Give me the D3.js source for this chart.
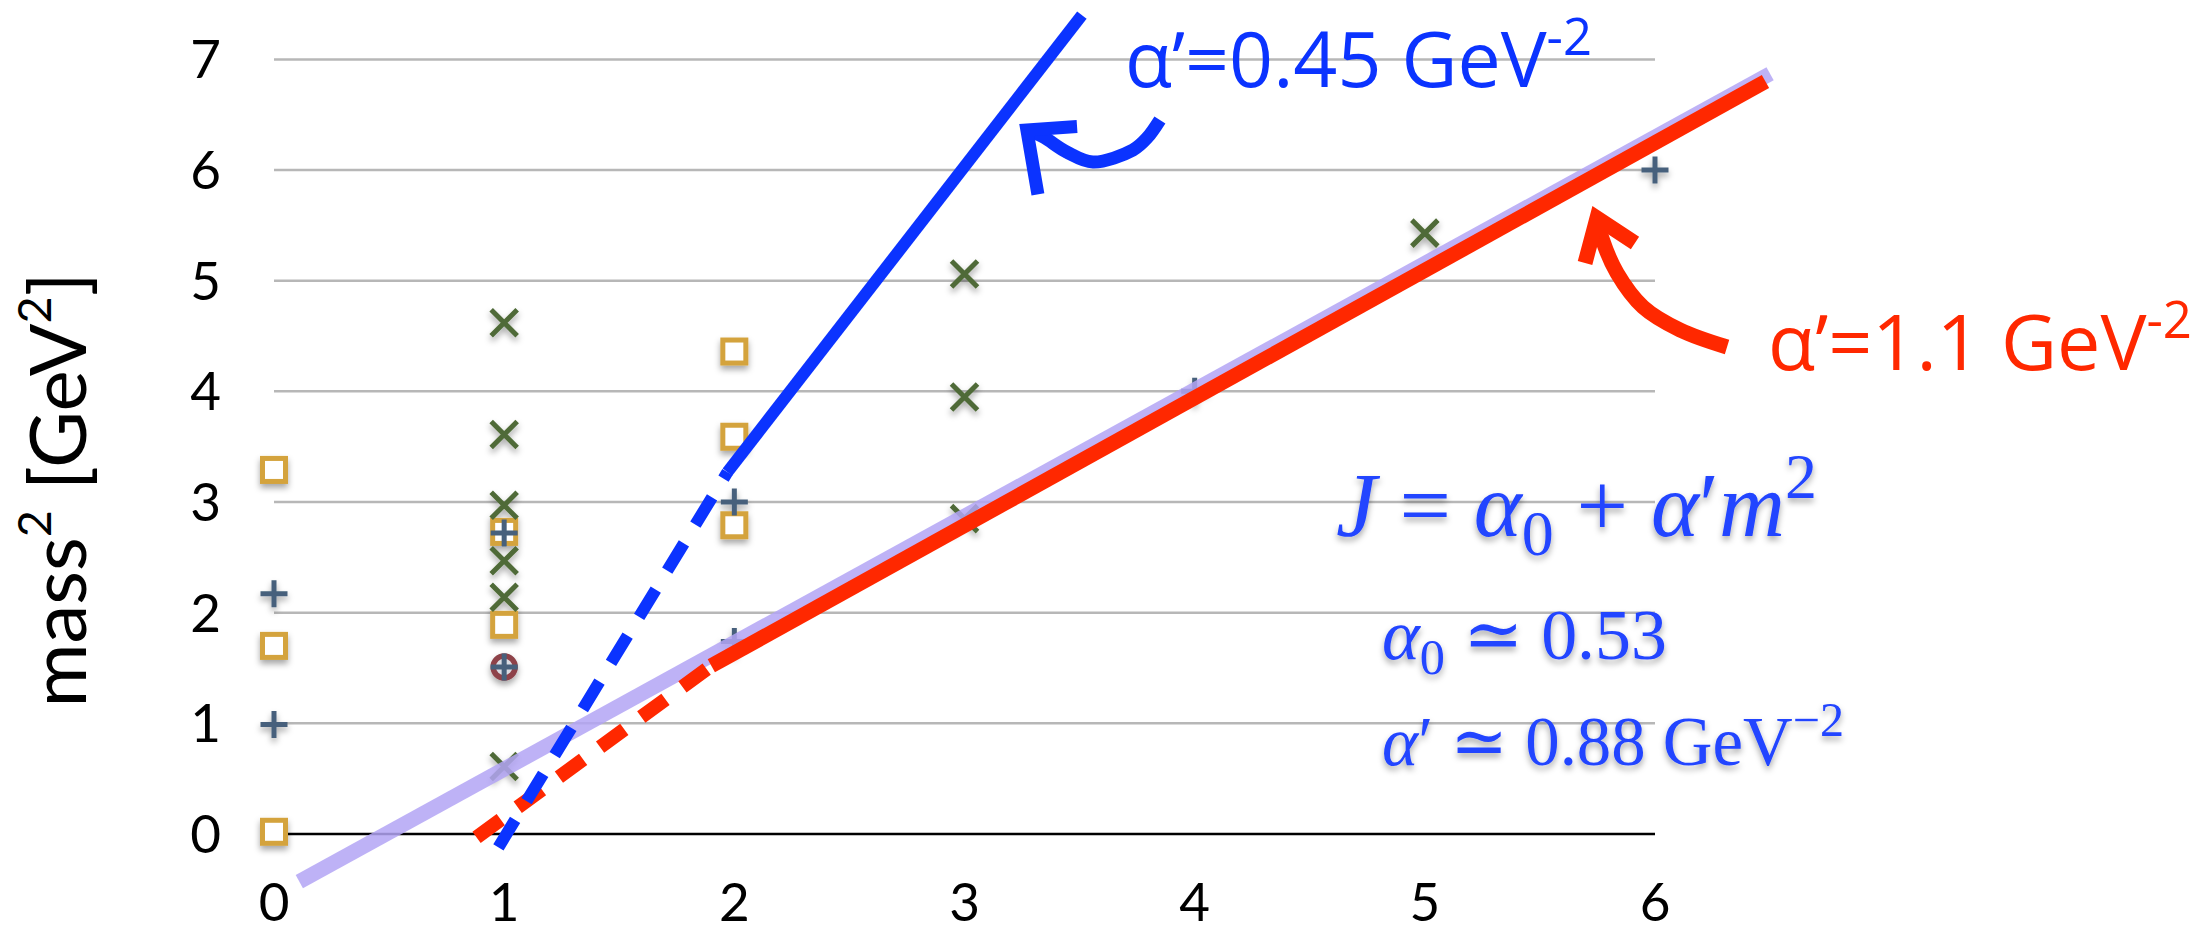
<!DOCTYPE html>
<html>
<head>
<meta charset="utf-8">
<script src="https://cdn.jsdelivr.net/npm/d3@7/dist/d3.min.js"></script>
<style>
  html, body { margin: 0; padding: 0; background: #fff; }
  svg { display: block; }
</style>
</head>
<body>
<svg id="chart" width="2212" height="931"></svg>
<script>
// ---- data (x = J, y = mass^2 in GeV^2) ----
const squareJ  = [0, 0, 0, 1, 1, 2, 2, 2];
const squareM2 = [3.29, 1.70, 0.02, 2.73, 1.89, 4.36, 3.59, 2.79];

const plusJ  = [0, 0, 1, 1, 2, 2, 4, 6];
const plusM2 = [2.17, 0.99, 2.72, 1.51, 3.0, 1.74, 4.0, 6.0];

const crossJ  = [1, 1, 1, 1, 1, 1, 3, 3, 3, 5];
const crossM2 = [4.62, 3.61, 2.97, 2.47, 2.14, 0.61, 5.06, 3.95, 2.85, 5.43];

const circleJ  = [1];
const circleM2 = [1.51];

const xTicks = [0, 1, 2, 3, 4, 5, 6];
const yTicks = [0, 1, 2, 3, 4, 5, 6, 7];

// trajectory lines, end points as [J, mass^2]
const fitLine   = [[0.11, -0.43], [6.5, 6.87]];
const redDash   = [[0.88, -0.03], [1.9, 1.52]];
const redSolid  = [[1.9, 1.52], [6.48, 6.8]];
const blueDash  = [[0.975, -0.12], [1.97, 3.27]];
const blueSolid = [[1.97, 3.27], [3.51, 7.4]];

// annotation arrows, also in data units
const blueArrowShaft = [[3.849, 6.453], [3.793, 6.290], [3.732, 6.182], [3.558, 6.073], [3.445, 6.162], [3.341, 6.300], [3.271, 6.362]];
const blueArrowHead  = [[3.489, 6.393], [3.271, 6.362], [3.319, 5.781]];
const redArrowShaft  = [[6.313, 4.401], [6.109, 4.555], [5.948, 4.763], [5.835, 5.070], [5.770, 5.380], [5.748, 5.567]];
const redArrowHead   = [[5.696, 5.160], [5.748, 5.567], [5.913, 5.341]];

// ---- setup ----
const svg = d3.select("#chart");
const x = d3.scaleLinear().domain([0, 6]).range([274, 1655]);
const y = d3.scaleLinear().domain([0, 7]).range([834, 59.4]);

const tickFont = "Lato, 'Open Sans', sans-serif";
const labelFont = "'Open Sans', Lato, sans-serif";
const mathFont = "'Liberation Serif', 'DejaVu Serif', serif";

const blue = "#0b33ff";
const red = "#ff2800";

// soft drop shadow used on markers and the formula
const defs = svg.append("defs");
defs.append("filter")
  .attr("id", "shadow")
  .attr("x", "-50%").attr("y", "-50%").attr("width", "200%").attr("height", "200%")
  .append("feDropShadow")
  .attr("dx", 0).attr("dy", 4).attr("stdDeviation", 3)
  .attr("flood-color", "#000").attr("flood-opacity", 0.35);

// scale a text's font-size so that it spans a target width
function fitWidth(sel, target) {
  const w = sel.node().getBBox().width;
  const fs = parseFloat(sel.attr("font-size"));
  sel.attr("font-size", fs * target / w);
}

// ---- grid ----
svg.append("g").selectAll("line")
  .data(yTicks.filter(d => d > 0))
  .enter().append("line")
  .attr("x1", x(0)).attr("x2", x(6))
  .attr("y1", d => y(d)).attr("y2", d => y(d))
  .attr("stroke", "#b7b7b7")
  .attr("stroke-width", 2.5);

svg.append("line")
  .attr("x1", x(0)).attr("x2", x(6))
  .attr("y1", y(0)).attr("y2", y(0))
  .attr("stroke", "#000")
  .attr("stroke-width", 2.5);

// ---- tick labels ----
svg.append("g").selectAll("text")
  .data(yTicks)
  .enter().append("text")
  .attr("x", 221)
  .attr("y", d => y(d))
  .attr("dy", "0.36em")
  .attr("text-anchor", "end")
  .attr("font-family", tickFont)
  .attr("font-size", 53)
  .text(d => d);

svg.append("g").selectAll("text")
  .data(xTicks)
  .enter().append("text")
  .attr("x", d => x(d))
  .attr("y", 921)
  .attr("text-anchor", "middle")
  .attr("font-family", tickFont)
  .attr("font-size", 53)
  .text(d => d);

// y axis title
const yTitle = svg.append("text")
  .attr("transform", "translate(86,490) rotate(-90)")
  .attr("text-anchor", "middle")
  .attr("font-family", tickFont)
  .attr("font-size", 78);
yTitle.append("tspan").text("mass");
yTitle.append("tspan").attr("font-size", "0.6em").attr("dy", "-0.75em").text("2");
yTitle.append("tspan").attr("dy", "0.45em").text(" [GeV");
yTitle.append("tspan").attr("font-size", "0.6em").attr("dy", "-0.75em").text("2");
yTitle.append("tspan").attr("dy", "0.45em").text("]");

// ---- markers ----
const marks = svg.append("g").attr("filter", "url(#shadow)");

marks.selectAll(".sq")
  .data(d3.zip(squareJ, squareM2))
  .enter().append("rect")
  .attr("class", "sq")
  .attr("x", d => x(d[0]) - 11.5)
  .attr("y", d => y(d[1]) - 11.5)
  .attr("width", 23).attr("height", 23)
  .attr("fill", "#fff")
  .attr("stroke", "#d4a33c")
  .attr("stroke-width", 5);

marks.selectAll(".cr")
  .data(d3.zip(crossJ, crossM2))
  .enter().append("path")
  .attr("class", "cr")
  .attr("d", d => {
    const cx = x(d[0]), cy = y(d[1]), r = 13;
    return `M${cx - r},${cy - r}L${cx + r},${cy + r}M${cx - r},${cy + r}L${cx + r},${cy - r}`;
  })
  .attr("stroke", "#4f6b37")
  .attr("stroke-width", 5);

marks.selectAll(".ci")
  .data(d3.zip(circleJ, circleM2))
  .enter().append("circle")
  .attr("class", "ci")
  .attr("cx", d => x(d[0]))
  .attr("cy", d => y(d[1]))
  .attr("r", 11)
  .attr("fill", "#dadbe2")
  .attr("stroke", "#8e4249")
  .attr("stroke-width", 5.5);

marks.selectAll(".pl")
  .data(d3.zip(plusJ, plusM2))
  .enter().append("path")
  .attr("class", "pl")
  .attr("d", d => {
    const cx = x(d[0]), cy = y(d[1]), r = 13.5;
    return `M${cx - r},${cy}L${cx + r},${cy}M${cx},${cy - r}L${cx},${cy + r}`;
  })
  .attr("stroke", "#46617b")
  .attr("stroke-width", 5);

// ---- trajectory lines ----
const line = d3.line().x(d => x(d[0])).y(d => y(d[1]));

svg.append("path")
  .attr("d", line(fitLine))
  .attr("stroke", "#b3a4f4")
  .attr("stroke-opacity", 0.85)
  .attr("stroke-width", 15)
  .attr("fill", "none");

svg.append("path")
  .attr("d", line(redDash))
  .attr("stroke", red)
  .attr("stroke-width", 14)
  .attr("stroke-dasharray", "30 21")
  .attr("fill", "none");

svg.append("path")
  .attr("d", line(blueDash))
  .attr("stroke", blue)
  .attr("stroke-width", 12)
  .attr("stroke-dasharray", "32 22")
  .attr("fill", "none");

svg.append("path")
  .attr("d", line(redSolid))
  .attr("stroke", red)
  .attr("stroke-width", 15)
  .attr("fill", "none");

svg.append("path")
  .attr("d", line(blueSolid))
  .attr("stroke", blue)
  .attr("stroke-width", 12)
  .attr("fill", "none");

// ---- arrows ----
const curve = d3.line().x(d => x(d[0])).y(d => y(d[1])).curve(d3.curveCatmullRom);

svg.append("path").attr("d", curve(blueArrowShaft))
  .attr("stroke", blue).attr("stroke-width", 13).attr("fill", "none");
svg.append("path").attr("d", line(blueArrowHead))
  .attr("stroke", blue).attr("stroke-width", 13).attr("fill", "none")
  .attr("stroke-linejoin", "miter");

svg.append("path").attr("d", curve(redArrowShaft))
  .attr("stroke", red).attr("stroke-width", 15).attr("fill", "none");
svg.append("path").attr("d", line(redArrowHead))
  .attr("stroke", red).attr("stroke-width", 15).attr("fill", "none")
  .attr("stroke-linejoin", "miter");

// ---- slope labels ----
function slopeLabel(px, py, value, color, width) {
  const t = svg.append("text")
    .attr("x", px).attr("y", py)
    .attr("font-family", labelFont)
    .attr("font-size", 70)
    .attr("fill", color);
  t.append("tspan").text("\u03b1\u2019=" + value + " GeV");
  t.append("tspan").attr("font-size", "0.66em").attr("dy", "-0.62em").text("-2");
  fitWidth(t, width);
}
slopeLabel(1125, 87, "0.45", blue, 467);
slopeLabel(1768, 370, "1.1", red, 424);

// ---- formula ----
const mathColor = "#2244ff";
function mathLine(px, py, parts, width) {
  const t = svg.append("text")
    .attr("x", px).attr("y", py)
    .attr("font-family", mathFont)
    .attr("font-size", 66)
    .attr("fill", mathColor)
    .attr("filter", "url(#shadow)")
    .style("white-space", "pre");
  parts.forEach(p => {
    const s = t.append("tspan").text(p.t);
    if (p.i) s.attr("font-style", "italic");
    if (p.sub) s.attr("font-size", "0.7em").attr("dy", "0.3em");
    if (p.sup) s.attr("font-size", "0.7em").attr("dy", "-0.6em");
    if (p.dy) s.attr("dy", p.dy);
  });
  fitWidth(t, width);
}
mathLine(1336, 536, [
  { t: "J", i: true }, { t: " = " }, { t: "\u03b1", i: true }, { t: "0", sub: true },
  { t: " + ", dy: "-0.21em" }, { t: "\u03b1", i: true }, { t: "\u2032" }, { t: "m", i: true },
  { t: "2", sup: true }
], 481);
mathLine(1382, 659, [
  { t: "\u03b1", i: true }, { t: "0", sub: true }, { t: " \u2243 ", dy: "-0.21em" }, { t: "0.53" }
], 285);
mathLine(1382, 765, [
  { t: "\u03b1", i: true }, { t: "\u2032" }, { t: " \u2243 0.88 GeV" }, { t: "\u22122", sup: true }
], 462);
</script>
</body>
</html>
